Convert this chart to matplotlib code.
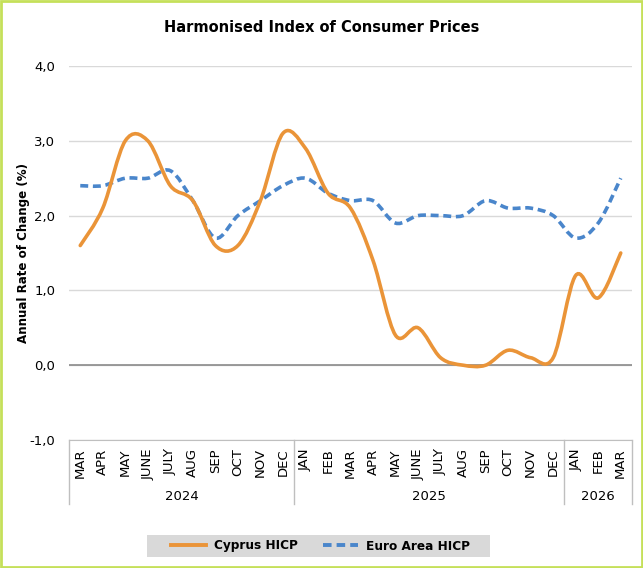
import matplotlib.pyplot as plt
from matplotlib.path import Path
from matplotlib.patches import PathPatch, Rectangle
from matplotlib.lines import Line2D
import numpy as np

months = ['MAR', 'APR', 'MAY', 'JUNE', 'JULY', 'AUG', 'SEP', 'OCT', 'NOV', 'DEC',
          'JAN', 'FEB', 'MAR', 'APR', 'MAY', 'JUNE', 'JULY', 'AUG', 'SEP', 'OCT', 'NOV', 'DEC',
          'JAN', 'FEB', 'MAR']
years = ['2024', '2025', '2026']
year_counts = [10, 12, 3]

cyprus = [1.6, 2.1, 3.0, 3.0, 2.4, 2.2, 1.6, 1.6, 2.2, 3.1,
          2.9, 2.3, 2.1, 1.4, 0.4, 0.5, 0.1, 0.0, 0.0, 0.2, 0.1, 0.1,
          1.2, 0.9, 1.5]
euro = [2.4, 2.4, 2.5, 2.5, 2.6, 2.2, 1.7, 2.0, 2.2, 2.4,
        2.5, 2.3, 2.2, 2.2, 1.9, 2.0, 2.0, 2.0, 2.2, 2.1, 2.1, 2.0,
        1.7, 1.9, 2.5]

ORANGE = '#EA9438'
BLUE = '#4A86CB'
W, H = 643, 568


def smooth_path(xs, ys):
    # excel-style smoothed line as cubic bezier segments
    pts = np.column_stack([xs, ys]).astype(float)
    n = len(pts)
    verts = [pts[0]]
    codes = [Path.MOVETO]
    for i in range(n - 1):
        p0 = pts[i - 1] if i > 0 else pts[i]
        p1 = pts[i]
        p2 = pts[i + 1]
        p3 = pts[i + 2] if i + 2 < n else pts[i + 1]
        c1 = p1 + (p2 - p0) / 6.0
        c2 = p2 - (p3 - p1) / 6.0
        verts += [c1, c2, p2]
        codes += [Path.CURVE4] * 3
    return Path(verts, codes)


fig = plt.figure(figsize=(W / 100, H / 100), dpi=100)
fig.patch.set_facecolor('white')
fig.patches.append(Rectangle((0.0015, 0.002), 0.997, 0.996, transform=fig.transFigure,
                             fill=False, edgecolor='#C5E05A', linewidth=2))

ax = fig.add_axes([69 / W, 1 - 440 / H, 563 / W, 374 / H])
x = np.arange(len(months))
ax.set_xlim(-0.5, len(months) - 0.5)
ax.set_ylim(-1.0, 4.0)
ax.set_yticks([-1, 0, 1, 2, 3, 4])
ax.set_yticklabels(['-1,0', '0,0', '1,0', '2,0', '3,0', '4,0'], fontsize=9.5)
ax.tick_params(axis='y', length=0, pad=10)
ax.grid(axis='y', color='#D9D9D9', linewidth=1)
ax.axhline(0, color='#8C8C8C', linewidth=1.2, zorder=2)
for s in ['top', 'right', 'left']:
    ax.spines[s].set_visible(False)
ax.spines['bottom'].set_color('#BFBFBF')
ax.set_axisbelow(True)

ax.add_patch(PathPatch(smooth_path(x, cyprus), fill=False, edgecolor=ORANGE,
                       linewidth=2.6, capstyle='round', zorder=4))
ax.add_patch(PathPatch(smooth_path(x, euro), fill=False, edgecolor=BLUE,
                       linewidth=2.6, linestyle=(0, (2.2, 1.3)), zorder=3))

ax.set_xticks(x)
ax.set_xticklabels(months, rotation=90, fontsize=9.5)
ax.tick_params(axis='x', length=0, pad=6)

# year groups and separators below the axis
trans = ax.get_xaxis_transform()
start = 0
bounds = [-0.5]
for yr, cnt in zip(years, year_counts):
    mid = start + (cnt - 1) / 2
    ax.text(mid, -0.152, yr, transform=trans, ha='center', va='center', fontsize=9.5)
    start += cnt
    bounds.append(start - 0.5)
for b in bounds:
    ax.add_line(Line2D([b, b], [0, -0.17], transform=trans, color='#BFBFBF',
                       linewidth=1, clip_on=False))

ax.set_ylabel('Annual Rate of Change (%)', fontsize=8.6, fontweight='bold')
ax.yaxis.set_label_coords((30 - 69) / 563, 0.5 + (365 - 253) / 374 / 2 - 0.15)
fig.text(0.5, 1 - 28 / H, 'Harmonised Index of Consumer Prices', ha='center',
         va='center', fontsize=10.5, fontweight='bold')

# legend on a grey band
fig.patches.append(Rectangle((147 / W, 1 - 557 / H), 343 / W, 22 / H,
                             transform=fig.transFigure, facecolor='#D9D9D9',
                             edgecolor='none', zorder=0))
handles = [Line2D([], [], color=ORANGE, linewidth=2.8),
           Line2D([], [], color=BLUE, linewidth=2.8, linestyle=(0, (2.2, 1.3)))]
leg = fig.legend(handles, ['Cyprus HICP', 'Euro Area HICP'], loc='center',
                 bbox_to_anchor=(320.5 / W, 1 - 546 / H), ncol=2, frameon=False,
                 prop={'weight': 'bold', 'size': 8.7},
                 handlelength=2.9, handletextpad=0.6, columnspacing=2.15)

fig.savefig('out.png', dpi=100, facecolor='white')
